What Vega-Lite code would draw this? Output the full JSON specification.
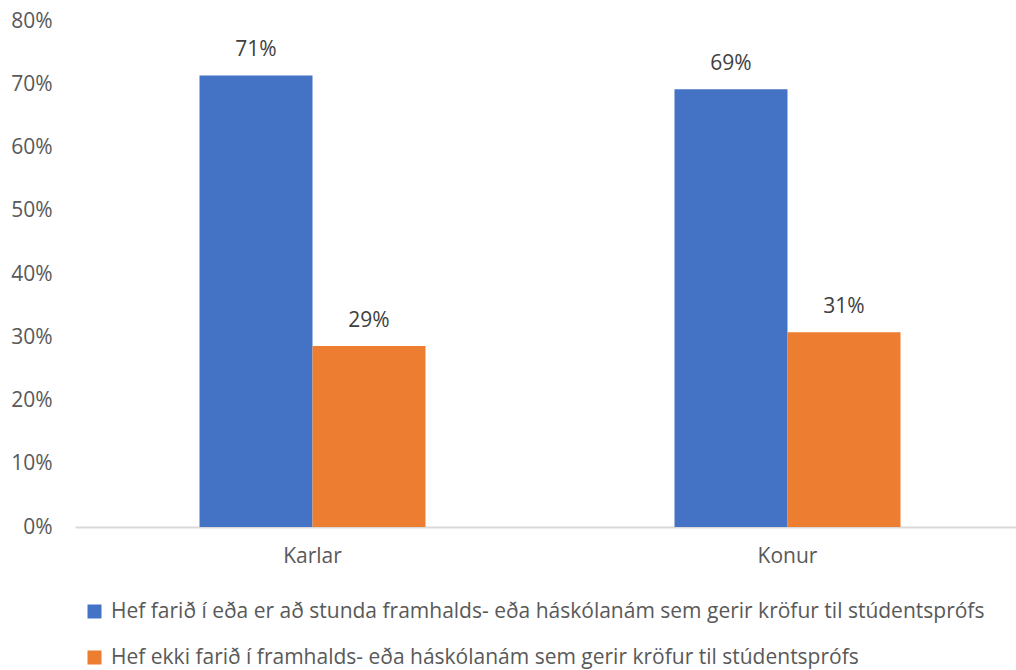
{
  "$schema": "https://vega.github.io/schema/vega-lite/v6.json",
  "width": 950,
  "height": 506,
  "autosize": {"type": "none"},
  "padding": {"left": 75, "top": 21, "right": -9, "bottom": 143},
  "background": "white",
  "config": {"view": {"stroke": null}, "font": "Open Sans"},
  "data": {"values": [
    {"kyn": "Karlar", "hopur": "Hef farið í eða er að stunda framhalds- eða háskólanám sem gerir kröfur til stúdentsprófs", "gildi": 0.714},
    {"kyn": "Karlar", "hopur": "Hef ekki farið í framhalds- eða háskólanám sem gerir kröfur til stúdentsprófs", "gildi": 0.286},
    {"kyn": "Konur", "hopur": "Hef farið í eða er að stunda framhalds- eða háskólanám sem gerir kröfur til stúdentsprófs", "gildi": 0.692},
    {"kyn": "Konur", "hopur": "Hef ekki farið í framhalds- eða háskólanám sem gerir kröfur til stúdentsprófs", "gildi": 0.308}
  ]},
  "encoding": {
    "x": {"field": "kyn", "type": "nominal", "title": null,
      "scale": {"paddingInner": 0.0484, "paddingOuter": 0.0242},
      "axis": {"labelAngle": 0, "labelFontSize": 21, "labelColor": "#595959", "labelPadding": 18, "ticks": false, "domainColor": "#d9d9d9", "domainWidth": 2, "labelFont": "Open Sans"}},
    "xOffset": {"field": "hopur", "type": "nominal",
      "sort": ["Hef farið í eða er að stunda framhalds- eða háskólanám sem gerir kröfur til stúdentsprófs", "Hef ekki farið í framhalds- eða háskólanám sem gerir kröfur til stúdentsprófs"],
      "scale": {"paddingInner": 0, "paddingOuter": 1}},
    "y": {"field": "gildi", "type": "quantitative", "title": null,
      "scale": {"domain": [0, 0.8], "nice": false},
      "axis": {"format": ".0%", "values": [0, 0.1, 0.2, 0.3, 0.4, 0.5, 0.6, 0.7, 0.8], "grid": false, "domain": false, "ticks": false, "labelFontSize": 21, "labelColor": "#595959", "labelPadding": 23, "labelFont": "Open Sans"}}
  },
  "layer": [
    {"mark": {"type": "bar"},
      "encoding": {
        "color": {"field": "hopur", "type": "nominal",
          "sort": ["Hef farið í eða er að stunda framhalds- eða háskólanám sem gerir kröfur til stúdentsprófs", "Hef ekki farið í framhalds- eða háskólanám sem gerir kröfur til stúdentsprófs"],
          "scale": {"range": ["#4472c4", "#ed7d31"]},
          "legend": {"orient": "none", "legendX": 9, "legendY": 580, "direction": "vertical", "title": null, "symbolType": "square", "symbolSize": 196, "symbolStrokeWidth": 0, "labelFontSize": 21, "labelColor": "#595959", "rowPadding": 24, "labelLimit": 1000, "labelOffset": 6, "labelFont": "Open Sans"}
        }
      }
    },
    {"mark": {"type": "text", "dy": -25, "fontSize": 21, "color": "#404040", "font": "Open Sans"},
      "encoding": {"text": {"field": "gildi", "type": "quantitative", "format": ".0%"}}
    }
  ]
}
